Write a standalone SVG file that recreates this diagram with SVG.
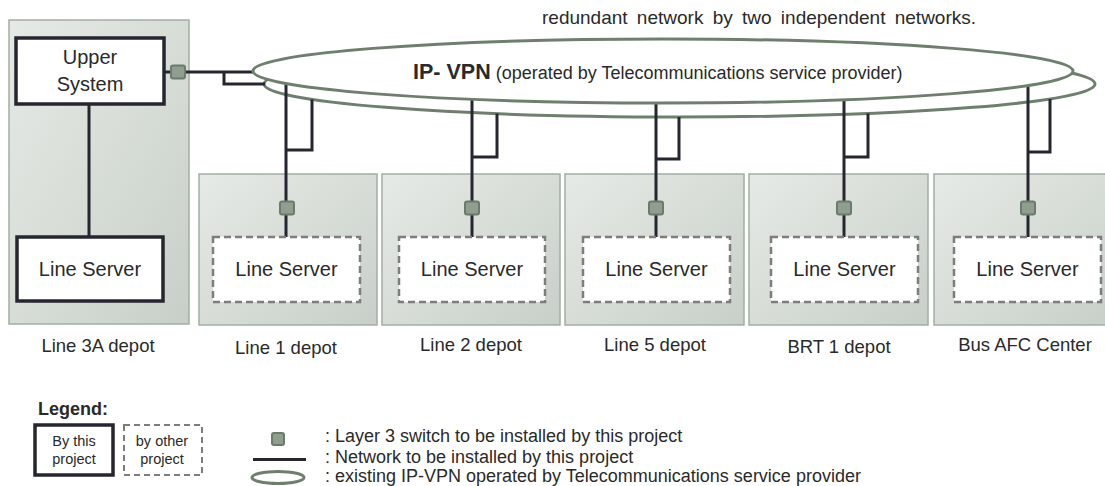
<svg xmlns="http://www.w3.org/2000/svg" width="1105" height="486" viewBox="0 0 1105 486">
<style>
text{font-family:"Liberation Sans",Arial,sans-serif;fill:#2a2a2a}
.panel{fill:url(#pg);stroke:#a3aea3;stroke-width:1.5}
.solid{fill:#fff;stroke:#262630;stroke-width:3.5}
.dash{fill:#fff;stroke:#7d7d7d;stroke-width:2.5;stroke-dasharray:7 4}
.sw{fill:#8f9e8f;stroke:#6b7a6b;stroke-width:2}
.net{fill:none;stroke:#262630;stroke-width:3}
.vpn{fill:#fff;stroke:#6e7f6e;stroke-width:3}
.lbl{font-size:18.5px;text-anchor:middle}
.srv{font-size:20px;text-anchor:middle}
.leg{font-size:18px}
</style>
<defs>
<linearGradient id="pg" x1="0" y1="0" x2="1" y2="1">
<stop offset="0" stop-color="#e6eae6"/>
<stop offset="1" stop-color="#c8cfc8"/>
</linearGradient>
</defs>

<text x="542" y="24" font-size="19" word-spacing="4">redundant network by two independent networks.</text>

<g id="panel-3a">
<rect class="panel" x="9" y="20" width="180" height="304"/>
<text class="lbl" x="98" y="352">Line 3A depot</text>
</g>
<g id="panel-l1"><rect class="panel" x="199" y="174" width="178" height="151"/><text class="lbl" x="286" y="354">Line 1 depot</text></g>
<g id="panel-l2"><rect class="panel" x="382" y="174" width="178" height="151"/><text class="lbl" x="471" y="351">Line 2 depot</text></g>
<g id="panel-l5"><rect class="panel" x="565" y="174" width="179" height="151"/><text class="lbl" x="655" y="351">Line 5 depot</text></g>
<g id="panel-brt"><rect class="panel" x="749" y="174" width="179" height="151"/><text class="lbl" x="839" y="353">BRT 1 depot</text></g>
<g id="panel-bus"><rect class="panel" x="934" y="174" width="179" height="151"/><text class="lbl" x="1025" y="351">Bus AFC Center</text></g>

<ellipse id="vpn-b" class="vpn" cx="679.5" cy="84" rx="415.5" ry="33"/>

<g id="connectors">
<path class="net" d="M164 72H253M224 72V84H265"/>
<path class="net" d="M89 104V237"/>
<path class="net" d="M286 75V237M312 99.5V150H286"/>
<path class="net" d="M472 85V237M497 113.6V157H472"/>
<path class="net" d="M656 85V237M679 117V159H656"/>
<path class="net" d="M844 85V237M868 113.4V157H844"/>
<path class="net" d="M1028 75V237M1050 99V152H1028"/>
</g>

<g id="vpn-a">
<ellipse class="vpn" cx="663" cy="71" rx="410" ry="32"/>
<text x="413" y="79" font-size="18"><tspan font-weight="bold" font-size="21.5">IP- VPN</tspan> (operated by Telecommunications service provider)</text>
</g>

<g id="upper-system">
<rect class="solid" x="16" y="38" width="148" height="66"/>
<text class="srv" x="90" y="64">Upper</text>
<text class="srv" x="90" y="91">System</text>
</g>
<g id="sw-upper"><rect class="sw" x="171" y="65.5" width="14" height="13" rx="2"/></g>

<g id="server-3a"><rect class="solid" x="17" y="237" width="146" height="64"/><text class="srv" x="90" y="276">Line Server</text></g>
<g id="server-l1"><rect class="dash" x="213" y="237" width="147" height="65"/><text class="srv" x="286.5" y="276">Line Server</text></g>
<g id="server-l2"><rect class="dash" x="399" y="237" width="146" height="65"/><text class="srv" x="472" y="276">Line Server</text></g>
<g id="server-l5"><rect class="dash" x="583" y="237" width="147" height="65"/><text class="srv" x="656.5" y="276">Line Server</text></g>
<g id="server-brt"><rect class="dash" x="771" y="237" width="147" height="65"/><text class="srv" x="844.5" y="276">Line Server</text></g>
<g id="server-bus"><rect class="dash" x="954" y="237" width="147" height="65"/><text class="srv" x="1027.5" y="276">Line Server</text></g>

<g id="sw-l1"><rect class="sw" x="280" y="201.5" width="14" height="13" rx="2"/></g>
<g id="sw-l2"><rect class="sw" x="465" y="201.5" width="14" height="13" rx="2"/></g>
<g id="sw-l5"><rect class="sw" x="649" y="201.5" width="14" height="13" rx="2"/></g>
<g id="sw-brt"><rect class="sw" x="837" y="201.5" width="14" height="13" rx="2"/></g>
<g id="sw-bus"><rect class="sw" x="1021" y="201.5" width="14" height="13" rx="2"/></g>

<g id="legend">
<text x="38" y="415" font-size="18" font-weight="bold">Legend:</text>
<rect class="solid" x="35" y="425" width="78" height="50"/>
<text x="74" y="446" font-size="14.5" text-anchor="middle">By this</text>
<text x="74" y="464" font-size="14.5" text-anchor="middle">project</text>
<rect class="dash" x="124" y="425" width="78" height="50" style="stroke-width:2;stroke-dasharray:6 4"/>
<text x="162" y="446" font-size="14.5" text-anchor="middle">by other</text>
<text x="162" y="464" font-size="14.5" text-anchor="middle">project</text>
<rect class="sw" x="272" y="433" width="12" height="12" rx="2"/>
<line class="net" x1="253" y1="459.5" x2="306" y2="459.5"/>
<ellipse cx="278" cy="477.5" rx="26" ry="6" fill="#fff" stroke="#6e7f6e" stroke-width="3"/>
<text class="leg" x="325" y="442">: Layer 3 switch to be installed by this project</text>
<text class="leg" x="325" y="463">: Network to be installed by this project</text>
<text class="leg" x="325" y="482">: existing IP-VPN operated by Telecommunications service provider</text>
</g>
</svg>
